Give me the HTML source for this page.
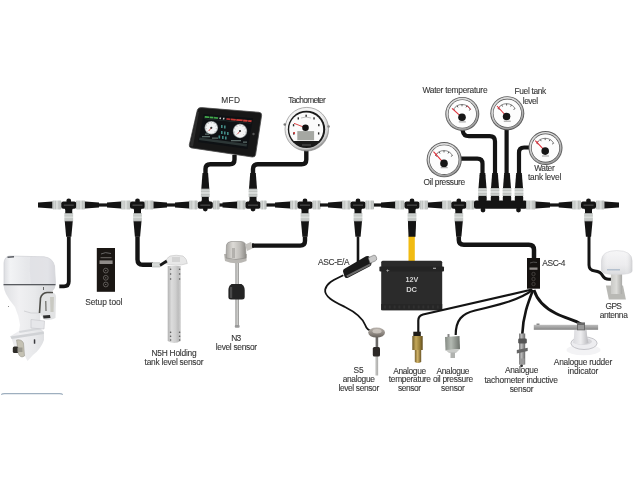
<!DOCTYPE html>
<html><head><meta charset="utf-8"><style>
html,body{margin:0;padding:0;background:#fff;width:640px;height:480px;overflow:hidden}
svg{display:block;will-change:transform}
text{font-family:"Liberation Sans",sans-serif}
</style></head><body>
<svg width="640" height="480" viewBox="0 0 640 480">
<defs>
<linearGradient id="gcol" x1="0" y1="0" x2="1" y2="0">
<stop offset="0" stop-color="#a4a8a6"/><stop offset="0.15" stop-color="#cdd1cf"/><stop offset="0.5" stop-color="#dcdfdd"/><stop offset="0.85" stop-color="#c6cac8"/><stop offset="1" stop-color="#a9adab"/>
</linearGradient>
<linearGradient id="gcolv" x1="0" y1="0" x2="0" y2="1">
<stop offset="0" stop-color="#a4a8a6"/><stop offset="0.15" stop-color="#cdd1cf"/><stop offset="0.5" stop-color="#dcdfdd"/><stop offset="0.85" stop-color="#c6cac8"/><stop offset="1" stop-color="#a9adab"/>
</linearGradient>
<radialGradient id="chrome" cx="0.45" cy="0.4" r="0.6">
<stop offset="0.7" stop-color="#f4f4f4"/><stop offset="0.9" stop-color="#cfcfcf"/><stop offset="1" stop-color="#8a8a8a"/>
</radialGradient>
<radialGradient id="chrome2" cx="0.45" cy="0.4" r="0.6">
<stop offset="0.7" stop-color="#dcdcdc"/><stop offset="1" stop-color="#9a9a9a"/>
</radialGradient>
<linearGradient id="mot1" x1="0" y1="0" x2="1" y2="0">
<stop offset="0" stop-color="#dcdde1"/><stop offset="0.12" stop-color="#f2f3f5"/><stop offset="0.45" stop-color="#e6e7ea"/><stop offset="0.85" stop-color="#e9eaed"/><stop offset="1" stop-color="#cfd0d4"/>
</linearGradient>
<linearGradient id="mot2" x1="0" y1="0" x2="1" y2="0">
<stop offset="0" stop-color="#dfe0e3"/><stop offset="0.3" stop-color="#f0f0f2"/><stop offset="0.6" stop-color="#e8e9eb"/><stop offset="1" stop-color="#d3d4d7"/>
</linearGradient>
<linearGradient id="tube" x1="0" y1="0" x2="1" y2="0">
<stop offset="0" stop-color="#b3b3b3"/><stop offset="0.3" stop-color="#dcdcdc"/><stop offset="0.6" stop-color="#cfcfcf"/><stop offset="0.8" stop-color="#bdbdbd"/><stop offset="1" stop-color="#d0d0d0"/>
</linearGradient>
<linearGradient id="rod" x1="0" y1="0" x2="1" y2="0">
<stop offset="0" stop-color="#8a8a88"/><stop offset="0.5" stop-color="#d6d6d4"/><stop offset="1" stop-color="#8f8f8d"/>
</linearGradient>
<linearGradient id="head" x1="0" y1="0" x2="1" y2="0">
<stop offset="0" stop-color="#a9a7a3"/><stop offset="0.35" stop-color="#dddbd7"/><stop offset="0.7" stop-color="#bfbdb9"/><stop offset="1" stop-color="#8e8c88"/>
</linearGradient>
<linearGradient id="brass" x1="0" y1="0" x2="1" y2="0">
<stop offset="0" stop-color="#6e5a28"/><stop offset="0.35" stop-color="#c4a85a"/><stop offset="0.7" stop-color="#9a8038"/><stop offset="1" stop-color="#5e4a1c"/>
</linearGradient>
<linearGradient id="brass2" x1="0" y1="0" x2="1" y2="0">
<stop offset="0" stop-color="#7a6430"/><stop offset="0.45" stop-color="#d2b468"/><stop offset="1" stop-color="#6a5424"/>
</linearGradient>
<linearGradient id="oilg" x1="0" y1="0" x2="1" y2="0">
<stop offset="0" stop-color="#858b84"/><stop offset="0.4" stop-color="#b4bab3"/><stop offset="1" stop-color="#6d726c"/>
</linearGradient>
<linearGradient id="tachs" x1="0" y1="0" x2="1" y2="0">
<stop offset="0" stop-color="#777"/><stop offset="0.4" stop-color="#b8b8b8"/><stop offset="1" stop-color="#6a6a6a"/>
</linearGradient>
<linearGradient id="bell" x1="0" y1="0" x2="1" y2="0">
<stop offset="0" stop-color="#d9d9dd"/><stop offset="0.5" stop-color="#eeeef0"/><stop offset="1" stop-color="#b9b9bd"/>
</linearGradient>
<linearGradient id="arm" x1="0" y1="0" x2="0" y2="1">
<stop offset="0" stop-color="#bdbdbd"/><stop offset="0.5" stop-color="#a2a2a2"/><stop offset="1" stop-color="#858585"/>
</linearGradient>
<linearGradient id="pole" x1="0" y1="0" x2="1" y2="0">
<stop offset="0" stop-color="#c9c9c6"/><stop offset="0.5" stop-color="#dcdcd9"/><stop offset="1" stop-color="#a9a9a6"/>
</linearGradient>
<linearGradient id="dome" x1="0" y1="0" x2="0" y2="1">
<stop offset="0" stop-color="#f6f6f7"/><stop offset="0.6" stop-color="#ececee"/><stop offset="1" stop-color="#dcdde0"/>
</linearGradient>
<linearGradient id="domeh" x1="0" y1="0" x2="1" y2="0">
<stop offset="0" stop-color="#c8c9cc" stop-opacity="0.5"/><stop offset="0.25" stop-color="#fff" stop-opacity="0"/><stop offset="0.75" stop-color="#fff" stop-opacity="0"/><stop offset="1" stop-color="#c0c1c4" stop-opacity="0.6"/>
</linearGradient>
<linearGradient id="s5f" x1="0" y1="0" x2="0" y2="1">
<stop offset="0" stop-color="#b9b3ad"/><stop offset="0.6" stop-color="#8c8680"/><stop offset="1" stop-color="#66615c"/>
</linearGradient>
</defs>
<rect width="640" height="480" fill="#fff"/>

<path d="M38 202.4 L52.5 201.4 L52.5 208.6 L38 207.6Z" fill="#141414"/>
<rect x="52.5" y="200.6" width="8.799999999999997" height="8.8" rx="0.8" fill="url(#gcol)"/>
<rect x="55.14" y="200.8" width="0.6" height="8.4" fill="#9ea2a0" opacity="0.6"/>
<rect x="58.66" y="200.8" width="0.6" height="8.4" fill="#9ea2a0" opacity="0.6"/>
<rect x="61.25" y="201.6" width="15" height="7.2" rx="2" fill="#141414"/>
<rect x="63.75" y="204.6" width="10" height="1.1" fill="#6a6a6a" opacity="0.7"/>
<circle cx="68.75" cy="200.9" r="2.4" fill="#141414"/>
<path d="M62.75 207 Q65.25 208 65.25 210 L65.25 213.5 L72.25 213.5 L72.25 210 Q72.25 208 74.75 207Z" fill="#141414"/>
<rect x="64.35" y="213.3" width="8.8" height="8" fill="url(#gcolv)"/>
<rect x="64.45" y="215.6" width="8.6" height="0.6" fill="#9ea2a0" opacity="0.6"/><rect x="64.45" y="218.6" width="8.6" height="0.6" fill="#9ea2a0" opacity="0.6"/>
<path d="M64.75 221.3 L72.75 221.3 L71.35 236.8 L66.15 236.8Z" fill="#141414"/>
<rect x="76.2" y="200.6" width="8.799999999999997" height="8.8" rx="0.8" fill="url(#gcol)"/>
<rect x="78.84" y="200.8" width="0.6" height="8.4" fill="#9ea2a0" opacity="0.6"/>
<rect x="82.36" y="200.8" width="0.6" height="8.4" fill="#9ea2a0" opacity="0.6"/>
<path d="M85 201.4 L99 202.4 L99 207.6 L85 208.6Z" fill="#141414"/>
<rect x="99" y="203.4" width="8" height="3.2" fill="#141414"/>
<path d="M107 202.4 L121 201.4 L121 208.6 L107 207.6Z" fill="#141414"/>
<rect x="121" y="200.6" width="9.5" height="8.8" rx="0.8" fill="url(#gcol)"/>
<rect x="123.85" y="200.8" width="0.6" height="8.4" fill="#9ea2a0" opacity="0.6"/>
<rect x="127.65" y="200.8" width="0.6" height="8.4" fill="#9ea2a0" opacity="0.6"/>
<rect x="130.0" y="201.6" width="15" height="7.2" rx="2" fill="#141414"/>
<rect x="132.5" y="204.6" width="10" height="1.1" fill="#6a6a6a" opacity="0.7"/>
<circle cx="137.5" cy="200.9" r="2.4" fill="#141414"/>
<path d="M131.5 207 Q134.0 208 134.0 210 L134.0 213.5 L141.0 213.5 L141.0 210 Q141.0 208 143.5 207Z" fill="#141414"/>
<rect x="133.1" y="213.3" width="8.8" height="8" fill="url(#gcolv)"/>
<rect x="133.2" y="215.6" width="8.6" height="0.6" fill="#9ea2a0" opacity="0.6"/><rect x="133.2" y="218.6" width="8.6" height="0.6" fill="#9ea2a0" opacity="0.6"/>
<path d="M133.5 221.3 L141.5 221.3 L140.1 236.8 L134.9 236.8Z" fill="#141414"/>
<rect x="144.5" y="200.6" width="9.0" height="8.8" rx="0.8" fill="url(#gcol)"/>
<rect x="147.20" y="200.8" width="0.6" height="8.4" fill="#9ea2a0" opacity="0.6"/>
<rect x="150.80" y="200.8" width="0.6" height="8.4" fill="#9ea2a0" opacity="0.6"/>
<path d="M153.5 201.4 L167 202.4 L167 207.6 L153.5 208.6Z" fill="#141414"/>
<rect x="167" y="203.4" width="8" height="3.2" fill="#141414"/>
<path d="M175 202.4 L189 201.4 L189 208.6 L175 207.6Z" fill="#141414"/>
<rect x="189" y="200.6" width="8.5" height="8.8" rx="0.8" fill="url(#gcol)"/>
<rect x="191.55" y="200.8" width="0.6" height="8.4" fill="#9ea2a0" opacity="0.6"/>
<rect x="194.95" y="200.8" width="0.6" height="8.4" fill="#9ea2a0" opacity="0.6"/>
<rect x="197.8" y="201.6" width="15" height="7.2" rx="2" fill="#141414"/>
<rect x="200.3" y="204.6" width="10" height="1.1" fill="#6a6a6a" opacity="0.7"/>
<circle cx="205.3" cy="209.1" r="2.4" fill="#141414"/>
<path d="M199.3 203 Q201.8 202 201.8 200 L201.8 196.5 L208.8 196.5 L208.8 200 Q208.8 202 211.3 203Z" fill="#141414"/>
<rect x="200.9" y="188.8" width="8.8" height="8" fill="url(#gcolv)"/>
<rect x="201.0" y="191.2" width="8.6" height="0.6" fill="#9ea2a0" opacity="0.6"/><rect x="201.0" y="194.2" width="8.6" height="0.6" fill="#9ea2a0" opacity="0.6"/>
<path d="M201.3 188.8 L209.3 188.8 L208.10000000000002 173 L202.5 173Z" fill="#141414"/>
<rect x="213" y="200.6" width="6.5" height="8.8" rx="0.8" fill="url(#gcol)"/>
<rect x="214.95" y="200.8" width="0.6" height="8.4" fill="#9ea2a0" opacity="0.6"/>
<rect x="217.55" y="200.8" width="0.6" height="8.4" fill="#9ea2a0" opacity="0.6"/>
<rect x="219.5" y="203.4" width="3.5" height="3.2" fill="#141414"/>
<path d="M222.5 202.4 L237 201.4 L237 208.6 L222.5 207.6Z" fill="#141414"/>
<rect x="237" y="200.6" width="8.5" height="8.8" rx="0.8" fill="url(#gcol)"/>
<rect x="239.55" y="200.8" width="0.6" height="8.4" fill="#9ea2a0" opacity="0.6"/>
<rect x="242.95" y="200.8" width="0.6" height="8.4" fill="#9ea2a0" opacity="0.6"/>
<rect x="245.5" y="201.6" width="15" height="7.2" rx="2" fill="#141414"/>
<rect x="248" y="204.6" width="10" height="1.1" fill="#6a6a6a" opacity="0.7"/>
<circle cx="253" cy="209.1" r="2.4" fill="#141414"/>
<path d="M247 203 Q249.5 202 249.5 200 L249.5 196.5 L256.5 196.5 L256.5 200 Q256.5 202 259 203Z" fill="#141414"/>
<rect x="248.6" y="188.8" width="8.8" height="8" fill="url(#gcolv)"/>
<rect x="248.7" y="191.2" width="8.6" height="0.6" fill="#9ea2a0" opacity="0.6"/><rect x="248.7" y="194.2" width="8.6" height="0.6" fill="#9ea2a0" opacity="0.6"/>
<path d="M249 188.8 L257 188.8 L255.8 173 L250.2 173Z" fill="#141414"/>
<rect x="260.5" y="200.6" width="6.0" height="8.8" rx="0.8" fill="url(#gcol)"/>
<rect x="262.30" y="200.8" width="0.6" height="8.4" fill="#9ea2a0" opacity="0.6"/>
<rect x="264.70" y="200.8" width="0.6" height="8.4" fill="#9ea2a0" opacity="0.6"/>
<rect x="266.5" y="203.4" width="8.5" height="3.2" fill="#141414"/>
<path d="M275 202.4 L290 201.4 L290 208.6 L275 207.6Z" fill="#141414"/>
<rect x="290" y="200.6" width="7.5" height="8.8" rx="0.8" fill="url(#gcol)"/>
<rect x="292.25" y="200.8" width="0.6" height="8.4" fill="#9ea2a0" opacity="0.6"/>
<rect x="295.25" y="200.8" width="0.6" height="8.4" fill="#9ea2a0" opacity="0.6"/>
<rect x="297.5" y="201.6" width="15" height="7.2" rx="2" fill="#141414"/>
<rect x="300" y="204.6" width="10" height="1.1" fill="#6a6a6a" opacity="0.7"/>
<circle cx="305" cy="200.9" r="2.4" fill="#141414"/>
<path d="M299 207 Q301.5 208 301.5 210 L301.5 213.5 L308.5 213.5 L308.5 210 Q308.5 208 311 207Z" fill="#141414"/>
<rect x="300.6" y="213.3" width="8.8" height="8" fill="url(#gcolv)"/>
<rect x="300.7" y="215.6" width="8.6" height="0.6" fill="#9ea2a0" opacity="0.6"/><rect x="300.7" y="218.6" width="8.6" height="0.6" fill="#9ea2a0" opacity="0.6"/>
<path d="M301 221.3 L309 221.3 L307.6 236.8 L302.4 236.8Z" fill="#141414"/>
<rect x="312.5" y="200.6" width="8.0" height="8.8" rx="0.8" fill="url(#gcol)"/>
<rect x="314.90" y="200.8" width="0.6" height="8.4" fill="#9ea2a0" opacity="0.6"/>
<rect x="318.10" y="200.8" width="0.6" height="8.4" fill="#9ea2a0" opacity="0.6"/>
<rect x="320" y="203.4" width="8.5" height="3.2" fill="#141414"/>
<path d="M328 202.4 L342 201.4 L342 208.6 L328 207.6Z" fill="#141414"/>
<rect x="342" y="200.6" width="8.5" height="8.8" rx="0.8" fill="url(#gcol)"/>
<rect x="344.55" y="200.8" width="0.6" height="8.4" fill="#9ea2a0" opacity="0.6"/>
<rect x="347.95" y="200.8" width="0.6" height="8.4" fill="#9ea2a0" opacity="0.6"/>
<rect x="350.5" y="201.6" width="15" height="7.2" rx="2" fill="#141414"/>
<rect x="353" y="204.6" width="10" height="1.1" fill="#6a6a6a" opacity="0.7"/>
<circle cx="358" cy="200.9" r="2.4" fill="#141414"/>
<path d="M352 207 Q354.5 208 354.5 210 L354.5 213.5 L361.5 213.5 L361.5 210 Q361.5 208 364 207Z" fill="#141414"/>
<rect x="353.6" y="213.3" width="8.8" height="8" fill="url(#gcolv)"/>
<rect x="353.7" y="215.6" width="8.6" height="0.6" fill="#9ea2a0" opacity="0.6"/><rect x="353.7" y="218.6" width="8.6" height="0.6" fill="#9ea2a0" opacity="0.6"/>
<path d="M354 221.3 L362 221.3 L360.6 236.8 L355.4 236.8Z" fill="#141414"/>
<rect x="365.5" y="200.6" width="8.5" height="8.8" rx="0.8" fill="url(#gcol)"/>
<rect x="368.05" y="200.8" width="0.6" height="8.4" fill="#9ea2a0" opacity="0.6"/>
<rect x="371.45" y="200.8" width="0.6" height="8.4" fill="#9ea2a0" opacity="0.6"/>
<rect x="374" y="203.4" width="7.5" height="3.2" fill="#141414"/>
<path d="M381 202.4 L395 201.4 L395 208.6 L381 207.6Z" fill="#141414"/>
<rect x="395" y="200.6" width="9.300000000000011" height="8.8" rx="0.8" fill="url(#gcol)"/>
<rect x="397.79" y="200.8" width="0.6" height="8.4" fill="#9ea2a0" opacity="0.6"/>
<rect x="401.51" y="200.8" width="0.6" height="8.4" fill="#9ea2a0" opacity="0.6"/>
<rect x="404.5" y="201.6" width="15" height="7.2" rx="2" fill="#141414"/>
<rect x="407" y="204.6" width="10" height="1.1" fill="#6a6a6a" opacity="0.7"/>
<circle cx="412" cy="200.9" r="2.4" fill="#141414"/>
<path d="M406 207 Q408.5 208 408.5 210 L408.5 213.5 L415.5 213.5 L415.5 210 Q415.5 208 418 207Z" fill="#141414"/>
<rect x="407.6" y="213.3" width="8.8" height="8" fill="url(#gcolv)"/>
<rect x="407.7" y="215.6" width="8.6" height="0.6" fill="#9ea2a0" opacity="0.6"/><rect x="407.7" y="218.6" width="8.6" height="0.6" fill="#9ea2a0" opacity="0.6"/>
<path d="M408 221.3 L416 221.3 L414.6 236.8 L409.4 236.8Z" fill="#141414"/>
<rect x="419.7" y="200.6" width="8.300000000000011" height="8.8" rx="0.8" fill="url(#gcol)"/>
<rect x="422.19" y="200.8" width="0.6" height="8.4" fill="#9ea2a0" opacity="0.6"/>
<rect x="425.51" y="200.8" width="0.6" height="8.4" fill="#9ea2a0" opacity="0.6"/>
<path d="M428 202.4 L442 201.4 L442 208.6 L428 207.6Z" fill="#141414"/>
<rect x="442" y="200.6" width="9.300000000000011" height="8.8" rx="0.8" fill="url(#gcol)"/>
<rect x="444.79" y="200.8" width="0.6" height="8.4" fill="#9ea2a0" opacity="0.6"/>
<rect x="448.51" y="200.8" width="0.6" height="8.4" fill="#9ea2a0" opacity="0.6"/>
<rect x="451.3" y="201.6" width="15" height="7.2" rx="2" fill="#141414"/>
<rect x="453.8" y="204.6" width="10" height="1.1" fill="#6a6a6a" opacity="0.7"/>
<circle cx="458.8" cy="200.9" r="2.4" fill="#141414"/>
<path d="M452.8 207 Q455.3 208 455.3 210 L455.3 213.5 L462.3 213.5 L462.3 210 Q462.3 208 464.8 207Z" fill="#141414"/>
<rect x="454.40000000000003" y="213.3" width="8.8" height="8" fill="url(#gcolv)"/>
<rect x="454.5" y="215.6" width="8.6" height="0.6" fill="#9ea2a0" opacity="0.6"/><rect x="454.5" y="218.6" width="8.6" height="0.6" fill="#9ea2a0" opacity="0.6"/>
<path d="M454.8 221.3 L462.8 221.3 L461.40000000000003 236.8 L456.2 236.8Z" fill="#141414"/>
<rect x="466.3" y="200.6" width="8.199999999999989" height="8.8" rx="0.8" fill="url(#gcol)"/>
<rect x="468.76" y="200.8" width="0.6" height="8.4" fill="#9ea2a0" opacity="0.6"/>
<rect x="472.04" y="200.8" width="0.6" height="8.4" fill="#9ea2a0" opacity="0.6"/>
<rect x="474" y="200.6" width="53" height="8.2" rx="2" fill="#141414"/>
<circle cx="483" cy="210" r="2.4" fill="#141414"/>
<circle cx="518.5" cy="210" r="2.4" fill="#141414"/>
<rect x="478.3" y="195.5" width="8.4" height="6" rx="1.5" fill="#141414"/>
<rect x="478.1" y="188" width="8.8" height="8" fill="url(#gcolv)"/>
<rect x="478.2" y="190.4" width="8.6" height="0.6" fill="#9ea2a0" opacity="0.6"/><rect x="478.2" y="193.4" width="8.6" height="0.6" fill="#9ea2a0" opacity="0.6"/>
<rect x="479.3" y="175.5" width="6.4" height="0.5" fill="#555" opacity="0.7"/>
<path d="M478.5 188 L486.5 188 L485.3 173 L479.7 173Z" fill="#141414"/>
<rect x="490.8" y="195.5" width="8.4" height="6" rx="1.5" fill="#141414"/>
<rect x="490.6" y="188" width="8.8" height="8" fill="url(#gcolv)"/>
<rect x="490.7" y="190.4" width="8.6" height="0.6" fill="#9ea2a0" opacity="0.6"/><rect x="490.7" y="193.4" width="8.6" height="0.6" fill="#9ea2a0" opacity="0.6"/>
<rect x="491.8" y="175.5" width="6.4" height="0.5" fill="#555" opacity="0.7"/>
<path d="M491 188 L499 188 L497.8 173 L492.2 173Z" fill="#141414"/>
<rect x="502.8" y="195.5" width="8.4" height="6" rx="1.5" fill="#141414"/>
<rect x="502.6" y="188" width="8.8" height="8" fill="url(#gcolv)"/>
<rect x="502.7" y="190.4" width="8.6" height="0.6" fill="#9ea2a0" opacity="0.6"/><rect x="502.7" y="193.4" width="8.6" height="0.6" fill="#9ea2a0" opacity="0.6"/>
<rect x="503.8" y="175.5" width="6.4" height="0.5" fill="#555" opacity="0.7"/>
<path d="M503 188 L511 188 L509.8 173 L504.2 173Z" fill="#141414"/>
<rect x="514.8" y="195.5" width="8.4" height="6" rx="1.5" fill="#141414"/>
<rect x="514.6" y="188" width="8.8" height="8" fill="url(#gcolv)"/>
<rect x="514.7" y="190.4" width="8.6" height="0.6" fill="#9ea2a0" opacity="0.6"/><rect x="514.7" y="193.4" width="8.6" height="0.6" fill="#9ea2a0" opacity="0.6"/>
<rect x="515.8" y="175.5" width="6.4" height="0.5" fill="#555" opacity="0.7"/>
<path d="M515 188 L523 188 L521.8 173 L516.2 173Z" fill="#141414"/>
<rect x="526" y="200.6" width="9.5" height="8.8" rx="0.8" fill="url(#gcol)"/>
<rect x="528.85" y="200.8" width="0.6" height="8.4" fill="#9ea2a0" opacity="0.6"/>
<rect x="532.65" y="200.8" width="0.6" height="8.4" fill="#9ea2a0" opacity="0.6"/>
<path d="M535.5 201.4 L550 202.4 L550 207.6 L535.5 208.6Z" fill="#141414"/>
<rect x="550" y="203.4" width="9" height="3.2" fill="#141414"/>
<path d="M558.7 202.4 L572 201.4 L572 208.6 L558.7 207.6Z" fill="#141414"/>
<rect x="572" y="200.6" width="8.799999999999955" height="8.8" rx="0.8" fill="url(#gcol)"/>
<rect x="574.64" y="200.8" width="0.6" height="8.4" fill="#9ea2a0" opacity="0.6"/>
<rect x="578.16" y="200.8" width="0.6" height="8.4" fill="#9ea2a0" opacity="0.6"/>
<rect x="581.0" y="201.6" width="15" height="7.2" rx="2" fill="#141414"/>
<rect x="583.5" y="204.6" width="10" height="1.1" fill="#6a6a6a" opacity="0.7"/>
<circle cx="588.5" cy="200.9" r="2.4" fill="#141414"/>
<path d="M582.5 207 Q585.0 208 585.0 210 L585.0 213.5 L592.0 213.5 L592.0 210 Q592.0 208 594.5 207Z" fill="#141414"/>
<rect x="584.1" y="213.3" width="8.8" height="8" fill="url(#gcolv)"/>
<rect x="584.2" y="215.6" width="8.6" height="0.6" fill="#9ea2a0" opacity="0.6"/><rect x="584.2" y="218.6" width="8.6" height="0.6" fill="#9ea2a0" opacity="0.6"/>
<path d="M584.5 221.3 L592.5 221.3 L591.1 236.8 L585.9 236.8Z" fill="#141414"/>
<rect x="596.2" y="200.6" width="8.199999999999932" height="8.8" rx="0.8" fill="url(#gcol)"/>
<rect x="598.66" y="200.8" width="0.6" height="8.4" fill="#9ea2a0" opacity="0.6"/>
<rect x="601.94" y="200.8" width="0.6" height="8.4" fill="#9ea2a0" opacity="0.6"/>
<path d="M604.4 201.4 L619 202.4 L619 207.6 L604.4 208.6Z" fill="#141414"/>
<path d="M68.8 236.5 L68.8 281.5 Q68.8 286.3 64 286.3 L59.3 286.3" fill="none" stroke="#141414" stroke-width="3.8" stroke-linecap="butt" stroke-linejoin="round"/>
<path d="M137.5 236.5 L137.5 259.5 Q137.5 264.8 142.8 264.8 L153 264.8" fill="none" stroke="#141414" stroke-width="4.4" stroke-linecap="butt" stroke-linejoin="round"/>
<path d="M205.5 174 L205.5 169 Q205.5 164.2 210.3 164.2 L229.7 164.2 Q234.5 164.2 234.5 159.4 L234.5 155" fill="none" stroke="#141414" stroke-width="4.4" stroke-linecap="butt" stroke-linejoin="round"/>
<path d="M253 174 L253 169 Q253 164.2 257.8 164.2 L301.5 164.2 Q306.3 164.2 306.3 159.4 L306.3 150" fill="none" stroke="#141414" stroke-width="4.4" stroke-linecap="butt" stroke-linejoin="round"/>
<path d="M305 236.5 L305 240.8 Q305 245.6 300.2 245.6 L252 245.6" fill="none" stroke="#141414" stroke-width="4.4" stroke-linecap="butt" stroke-linejoin="round"/>
<path d="M358 236.5 L358 262" fill="none" stroke="#141414" stroke-width="2.6" stroke-linecap="butt" stroke-linejoin="round"/>
<rect x="408.5" y="236" width="6.3" height="25" fill="#f1bb12"/>
<path d="M408 221.3 L416 221.3 L415.5 236.8 L408.5 236.8Z" fill="#141414"/>
<path d="M458.8 236.5 L458.8 239.8 Q458.8 244.8 463.8 244.8 L528.8 244.8 Q534 244.8 534 250 L534 258.5" fill="none" stroke="#141414" stroke-width="4.5" stroke-linecap="butt" stroke-linejoin="round"/>
<path d="M482.5 174 L482.5 163.8 Q482.5 158.6 477.3 158.6 L460 158.6" fill="none" stroke="#141414" stroke-width="4.2" stroke-linecap="butt" stroke-linejoin="round"/>
<path d="M495 174 L495 141.5 Q495 136.2 489.7 136.2 L469 136.2 Q463.5 136.2 462.8 131 L462.5 128" fill="none" stroke="#141414" stroke-width="4.2" stroke-linecap="butt" stroke-linejoin="round"/>
<path d="M506.6 174 L506.6 128" fill="none" stroke="#141414" stroke-width="4.2" stroke-linecap="butt" stroke-linejoin="round"/>
<path d="M519 174 L519 152.7 Q519 147.5 524.2 147.5 L530 147.5" fill="none" stroke="#141414" stroke-width="4.2" stroke-linecap="butt" stroke-linejoin="round"/>
<path d="M201.5 107.6 L259 112.3 Q262 112.6 261.6 115.5 L255.6 154.5 Q255.2 157.4 252.3 157 L191.5 147.9 Q188.8 147.5 189.3 144.8 L197.3 110.3 Q198 107.3 201.5 107.6Z" fill="#171717" stroke="#4a4a4a" stroke-width="0.8"/>
<path d="M203.8 113.9 L253.1 118.3 L247.5 148.9 L198.1 142Z" fill="#0e1114"/>
<path d="M204.88 116.00 L209.32 116.42 L208.98 118.12 L204.54 117.69Z" fill="#46b04e" opacity="1"/>
<path d="M209.81 116.46 L213.26 116.78 L212.92 118.50 L209.47 118.17Z" fill="#46b04e" opacity="1"/>
<path d="M213.76 116.83 L218.19 117.24 L217.85 118.97 L213.41 118.55Z" fill="#3f9e48" opacity="1"/>
<path d="M219.67 117.38 L221.15 117.51 L220.81 119.25 L219.33 119.11Z" fill="#cfcfcf" opacity="1"/>
<path d="M223.12 117.70 L224.60 117.83 L224.26 119.58 L222.78 119.44Z" fill="#cfcfcf" opacity="1"/>
<path d="M226.58 118.02 L230.52 118.38 L230.18 120.15 L226.24 119.77Z" fill="#b03030" opacity="1"/>
<path d="M231.01 118.43 L235.94 118.89 L235.61 120.67 L230.67 120.20Z" fill="#c83a34" opacity="1"/>
<path d="M236.44 118.93 L242.85 119.53 L242.51 121.33 L236.10 120.72Z" fill="#d03c36" opacity="1"/>
<path d="M243.34 119.57 L247.78 119.98 L247.44 121.81 L243.00 121.38Z" fill="#d0403a" opacity="1"/>
<path d="M248.27 120.03 L251.72 120.35 L251.39 122.18 L247.93 121.85Z" fill="#c83a34" opacity="1"/>
<path d="M204.37 118.54 L250.72 123.05 L250.64 123.51 L204.28 118.96Z" fill="#2a3a3a" opacity="1"/>
<circle cx="211.3" cy="127.8" r="6.8" fill="#9aa0a2"/>
<circle cx="211.3" cy="127.8" r="6.0" fill="#f2f4f5"/>
<line x1="207.34" y1="131.76" x2="208.05" y2="131.05" stroke="#555" stroke-width="0.4"/>
<line x1="205.81" y1="128.89" x2="206.79" y2="128.70" stroke="#555" stroke-width="0.4"/>
<line x1="206.13" y1="125.66" x2="207.05" y2="126.04" stroke="#555" stroke-width="0.4"/>
<line x1="208.19" y1="123.14" x2="208.74" y2="123.98" stroke="#555" stroke-width="0.4"/>
<line x1="211.30" y1="122.20" x2="211.30" y2="123.20" stroke="#555" stroke-width="0.4"/>
<line x1="214.41" y1="123.14" x2="213.86" y2="123.98" stroke="#555" stroke-width="0.4"/>
<line x1="216.47" y1="125.66" x2="215.55" y2="126.04" stroke="#555" stroke-width="0.4"/>
<line x1="216.79" y1="128.89" x2="215.81" y2="128.70" stroke="#555" stroke-width="0.4"/>
<line x1="215.26" y1="131.76" x2="214.55" y2="131.05" stroke="#555" stroke-width="0.4"/>
<line x1="211.3" y1="127.8" x2="208.70000000000002" y2="131.0" stroke="#c33" stroke-width="0.8"/><circle cx="211.3" cy="127.8" r="1.1" fill="#333"/>
<circle cx="240" cy="131" r="7.2" fill="#9aa0a2"/>
<circle cx="240" cy="131" r="6.4" fill="#f2f4f5"/>
<line x1="235.76" y1="135.24" x2="236.46" y2="134.54" stroke="#555" stroke-width="0.4"/>
<line x1="234.12" y1="132.17" x2="235.10" y2="131.98" stroke="#555" stroke-width="0.4"/>
<line x1="234.46" y1="128.70" x2="235.38" y2="129.09" stroke="#555" stroke-width="0.4"/>
<line x1="236.67" y1="126.01" x2="237.22" y2="126.84" stroke="#555" stroke-width="0.4"/>
<line x1="240.00" y1="125.00" x2="240.00" y2="126.00" stroke="#555" stroke-width="0.4"/>
<line x1="243.33" y1="126.01" x2="242.78" y2="126.84" stroke="#555" stroke-width="0.4"/>
<line x1="245.54" y1="128.70" x2="244.62" y2="129.09" stroke="#555" stroke-width="0.4"/>
<line x1="245.88" y1="132.17" x2="244.90" y2="131.98" stroke="#555" stroke-width="0.4"/>
<line x1="244.24" y1="135.24" x2="243.54" y2="134.54" stroke="#555" stroke-width="0.4"/>
<line x1="240" y1="131" x2="237.4" y2="134.2" stroke="#c33" stroke-width="0.8"/><circle cx="240" cy="131" r="1.1" fill="#333"/>
<rect x="221" y="125" width="1.6" height="3" fill="#4fa7a0" opacity="0.8"/>
<rect x="224" y="125.5" width="1.6" height="3" fill="#4fa7a0" opacity="0.8"/>
<rect x="221" y="131" width="1.6" height="3" fill="#4fa7a0" opacity="0.8"/>
<rect x="224" y="131.5" width="1.6" height="3" fill="#4fa7a0" opacity="0.8"/>
<rect x="227" y="132" width="1.6" height="3" fill="#4fa7a0" opacity="0.8"/>
<rect x="218.5" y="135.5" width="1.6" height="3" fill="#4fa7a0" opacity="0.8"/>
<rect x="222" y="136" width="1.6" height="3" fill="#4fa7a0" opacity="0.8"/>
<rect x="225" y="136.5" width="1.6" height="3" fill="#4fa7a0" opacity="0.8"/>
<path d="M199.5 137.5 L247 144 L246.6 146.5 L199 140Z" fill="#34403f" opacity="0.8"/>
<rect x="202" y="136" width="8" height="1.3" fill="#5a6a68"/>
<rect x="212" y="137.5" width="6" height="1.3" fill="#5a6a68"/>
<rect x="231" y="140" width="10" height="1.3" fill="#5a6a68"/>
<rect x="243" y="141.5" width="4" height="1.3" fill="#5a6a68"/>
<rect x="205" y="133.5" width="4" height="1.3" fill="#5a6a68"/>
<path d="M190 146 L197 112 L199 112 L193 146.5Z" fill="#2c2c2c"/>
<circle cx="253.5" cy="134" r="1.2" fill="#555"/>
<circle cx="306.8" cy="129.2" r="21.8" fill="url(#chrome)" stroke="#8e8e8e" stroke-width="0.7"/>
<circle cx="284.8" cy="124.5" r="1.3" fill="#777"/><circle cx="328.6" cy="126.5" r="1.3" fill="#888"/>
<circle cx="306.5" cy="129.4" r="18.7" fill="#1a1a1a"/>
<path d="M293.7 141 A17 17 0 1 1 318.7 141Z" fill="#fbfbfb"/>
<rect x="297.3" y="131.1" width="16.8" height="9.2" fill="#a5a7a2"/>
<line x1="305.5" y1="127.8" x2="294" y2="123.3" stroke="#d33" stroke-width="0.9"/>
<circle cx="305.5" cy="127.8" r="3.3" fill="#111"/>
<rect x="293.10" y="132.41" width="1.4" height="2.2" fill="#2a2a2a"/>
<rect x="292.85" y="124.13" width="1.4" height="2.2" fill="#2a2a2a"/>
<rect x="297.59" y="117.33" width="1.4" height="2.2" fill="#2a2a2a"/>
<rect x="305.45" y="114.70" width="1.4" height="2.2" fill="#2a2a2a"/>
<rect x="313.33" y="117.28" width="1.4" height="2.2" fill="#2a2a2a"/>
<rect x="318.12" y="124.04" width="1.4" height="2.2" fill="#2a2a2a"/>
<rect x="317.94" y="132.33" width="1.4" height="2.2" fill="#2a2a2a"/>
<circle cx="294.2" cy="133" r="0.9" fill="#d33"/>
<path d="M301 118 Q306 116 311 118" fill="none" stroke="#999" stroke-width="0.6"/>
<rect x="302" y="144" width="9" height="2" fill="#3a3a3a"/>
<circle cx="462.3" cy="113.9" r="17" fill="#5c5c5c"/>
<circle cx="462.3" cy="113.9" r="16.1" fill="url(#chrome2)"/>
<circle cx="462.3" cy="113.9" r="14.4" fill="#4a4a4a"/>
<circle cx="462.3" cy="113.9" r="13.8" fill="#fdfdfd"/>
<path d="M453.51 109.40 A9.8 9.8 0 0 1 470.49 109.40" fill="none" stroke="#3a3a3a" stroke-width="0.6"/>
<line x1="453.51" y1="109.40" x2="455.07" y2="110.30" stroke="#333" stroke-width="0.8"/>
<line x1="457.10" y1="105.81" x2="458.00" y2="107.37" stroke="#333" stroke-width="0.8"/>
<line x1="462.00" y1="104.50" x2="462.00" y2="106.30" stroke="#333" stroke-width="0.8"/>
<line x1="466.90" y1="105.81" x2="466.00" y2="107.37" stroke="#333" stroke-width="0.8"/>
<line x1="470.49" y1="109.40" x2="468.93" y2="110.30" stroke="#333" stroke-width="0.8"/>
<path d="M466.90 105.81 A9.8 9.8 0 0 1 470.49 109.40" fill="none" stroke="#d03040" stroke-width="1"/>
<line x1="462" y1="117.3" x2="452" y2="108.4" stroke="#e0303a" stroke-width="1.1"/>
<circle cx="462" cy="117.3" r="3.8" fill="#161616"/>
<rect x="458.8" y="121.4" width="7" height="1" fill="#9a9a9a"/>
<circle cx="507.3" cy="113.2" r="17" fill="#5c5c5c"/>
<circle cx="507.3" cy="113.2" r="16.1" fill="url(#chrome2)"/>
<circle cx="507.3" cy="113.2" r="14.4" fill="#4a4a4a"/>
<circle cx="507.3" cy="113.2" r="13.8" fill="#fdfdfd"/>
<path d="M498.11 108.60 A9.8 9.8 0 0 1 515.09 108.60" fill="none" stroke="#3a3a3a" stroke-width="0.6"/>
<line x1="498.11" y1="108.60" x2="499.67" y2="109.50" stroke="#333" stroke-width="0.8"/>
<line x1="501.70" y1="105.01" x2="502.60" y2="106.57" stroke="#333" stroke-width="0.8"/>
<line x1="506.60" y1="103.70" x2="506.60" y2="105.50" stroke="#333" stroke-width="0.8"/>
<line x1="511.50" y1="105.01" x2="510.60" y2="106.57" stroke="#333" stroke-width="0.8"/>
<line x1="515.09" y1="108.60" x2="513.53" y2="109.50" stroke="#333" stroke-width="0.8"/>
<path d="M498.11 108.60 A9.8 9.8 0 0 1 499.67 106.57" fill="none" stroke="#d03040" stroke-width="1"/>
<line x1="506.6" y1="116.5" x2="497" y2="106" stroke="#e0303a" stroke-width="1.1"/>
<circle cx="506.6" cy="116.5" r="3.8" fill="#161616"/>
<rect x="503.8" y="120.7" width="7" height="1" fill="#9a9a9a"/>
<circle cx="444.2" cy="159.7" r="17.6" fill="#5c5c5c"/>
<circle cx="444.2" cy="159.7" r="16.700000000000003" fill="url(#chrome2)"/>
<circle cx="444.2" cy="159.7" r="15.000000000000002" fill="#4a4a4a"/>
<circle cx="444.2" cy="159.7" r="14.400000000000002" fill="#fdfdfd"/>
<path d="M435.51 155.50 A9.8 9.8 0 0 1 452.49 155.50" fill="none" stroke="#3a3a3a" stroke-width="0.6"/>
<line x1="435.51" y1="155.50" x2="437.07" y2="156.40" stroke="#333" stroke-width="0.8"/>
<line x1="439.10" y1="151.91" x2="440.00" y2="153.47" stroke="#333" stroke-width="0.8"/>
<line x1="444.00" y1="150.60" x2="444.00" y2="152.40" stroke="#333" stroke-width="0.8"/>
<line x1="448.90" y1="151.91" x2="448.00" y2="153.47" stroke="#333" stroke-width="0.8"/>
<line x1="452.49" y1="155.50" x2="450.93" y2="156.40" stroke="#333" stroke-width="0.8"/>
<path d="M435.51 155.50 A9.8 9.8 0 0 1 437.07 153.47" fill="none" stroke="#d03040" stroke-width="1"/>
<line x1="444" y1="163.4" x2="433.5" y2="151.6" stroke="#e0303a" stroke-width="1.1"/>
<circle cx="444" cy="163.4" r="3.8" fill="#161616"/>
<rect x="440.7" y="167.2" width="7" height="1" fill="#9a9a9a"/>
<circle cx="545.5" cy="148" r="17" fill="#5c5c5c"/>
<circle cx="545.5" cy="148" r="16.1" fill="url(#chrome2)"/>
<circle cx="545.5" cy="148" r="14.4" fill="#4a4a4a"/>
<circle cx="545.5" cy="148" r="13.8" fill="#fdfdfd"/>
<path d="M536.71 143.20 A9.8 9.8 0 0 1 553.69 143.20" fill="none" stroke="#3a3a3a" stroke-width="0.6"/>
<line x1="536.71" y1="143.20" x2="538.27" y2="144.10" stroke="#333" stroke-width="0.8"/>
<line x1="540.30" y1="139.61" x2="541.20" y2="141.17" stroke="#333" stroke-width="0.8"/>
<line x1="545.20" y1="138.30" x2="545.20" y2="140.10" stroke="#333" stroke-width="0.8"/>
<line x1="550.10" y1="139.61" x2="549.20" y2="141.17" stroke="#333" stroke-width="0.8"/>
<line x1="553.69" y1="143.20" x2="552.13" y2="144.10" stroke="#333" stroke-width="0.8"/>
<path d="M536.71 143.20 A9.8 9.8 0 0 1 538.27 141.17" fill="none" stroke="#d03040" stroke-width="1"/>
<line x1="545.2" y1="151.1" x2="535.3" y2="140.7" stroke="#e0303a" stroke-width="1.1"/>
<circle cx="545.2" cy="151.1" r="3.8" fill="#161616"/>
<rect x="542.0" y="155.5" width="7" height="1" fill="#9a9a9a"/>
<rect x="96.8" y="248" width="18.2" height="43.8" fill="#1a1613"/>
<rect x="99.5" y="260.4" width="13.1" height="3.6" fill="#8f8b88"/>
<rect x="100.5" y="257.2" width="11" height="1" fill="#6f6b68"/>
<path d="M101 254 Q105 251.5 111 253.5" fill="none" stroke="#888" stroke-width="0.7"/>
<circle cx="105.8" cy="270.6" r="2.4" fill="none" stroke="#8a8683" stroke-width="0.6"/>
<circle cx="105.8" cy="270.6" r="0.6" fill="#8a8683"/>
<circle cx="105.8" cy="277.8" r="2.4" fill="none" stroke="#8a8683" stroke-width="0.6"/>
<circle cx="105.8" cy="277.8" r="0.6" fill="#8a8683"/>
<circle cx="105.8" cy="284.5" r="2.4" fill="none" stroke="#8a8683" stroke-width="0.6"/>
<circle cx="105.8" cy="284.5" r="0.6" fill="#8a8683"/>
<rect x="527" y="258" width="13" height="30.7" fill="#151210"/>
<rect x="529.5" y="267.5" width="8" height="2.3" fill="#8f8b88"/>
<path d="M530 263 Q533 261.5 537 262.5" fill="none" stroke="#777" stroke-width="0.6"/>
<circle cx="533.5" cy="274" r="1.7" fill="none" stroke="#6a6663" stroke-width="0.5"/>
<circle cx="533.5" cy="279" r="1.7" fill="none" stroke="#6a6663" stroke-width="0.5"/>
<circle cx="533.5" cy="284" r="1.7" fill="none" stroke="#6a6663" stroke-width="0.5"/>
<rect x="381.2" y="260.8" width="61" height="49.4" rx="1.5" fill="#2b2b2b"/>
<rect x="379.4" y="266.6" width="64.6" height="4.8" rx="1" fill="#242424"/>
<rect x="381.2" y="304" width="61" height="6.2" fill="#262626"/>
<rect x="384.0" y="305.5" width="2" height="3" fill="#303030"/>
<rect x="388.8" y="305.5" width="2" height="3" fill="#303030"/>
<rect x="393.6" y="305.5" width="2" height="3" fill="#303030"/>
<rect x="398.4" y="305.5" width="2" height="3" fill="#303030"/>
<rect x="403.2" y="305.5" width="2" height="3" fill="#303030"/>
<rect x="408.0" y="305.5" width="2" height="3" fill="#303030"/>
<rect x="412.8" y="305.5" width="2" height="3" fill="#303030"/>
<rect x="417.6" y="305.5" width="2" height="3" fill="#303030"/>
<rect x="422.4" y="305.5" width="2" height="3" fill="#303030"/>
<rect x="427.2" y="305.5" width="2" height="3" fill="#303030"/>
<rect x="432.0" y="305.5" width="2" height="3" fill="#303030"/>
<rect x="436.8" y="305.5" width="2" height="3" fill="#303030"/>
<text x="387.8" y="271.5" font-size="6" fill="#ccc" text-anchor="middle">+</text>
<rect x="433" y="267.8" width="3" height="0.9" fill="#ccc"/>
<text x="411.8" y="282.3" font-size="7.8" font-weight="bold" fill="#d4d4d4" text-anchor="middle" textLength="12.8" lengthAdjust="spacingAndGlyphs">12V</text>
<text x="411.6" y="291.9" font-size="7.8" font-weight="bold" fill="#d4d4d4" text-anchor="middle" textLength="10.9" lengthAdjust="spacingAndGlyphs">DC</text>
<path d="M1.2 394.6 Q2.2 393.7 4.5 393.7 L59.5 393.7 Q61.8 393.7 62.8 394.6" fill="none" stroke="#9eafbf" stroke-width="1.2"/>
<path d="M3.5 285.2 L55.5 285.2 Q55 290 50 292.5 L41 296 L40 328 L44 332 L44 340 Q41 349 33 355 L27.5 361 L25 356 Q17 353 14 346 L11.5 338 L10 336.5 L19 331 L20 325 Q19 316 15 307 Q9 300 6 294 Q4 290 3.5 285.2Z" fill="url(#mot2)"/>
<path d="M4 284.5 L4 263 Q4.5 256.5 9.5 256 L44 256.8 Q53 258 54.5 266 L55.5 284.5Z" fill="url(#mot1)" stroke="#cfd0d4" stroke-width="0.7"/>
<path d="M30 257 L44 256.8 Q53 258 54.5 266 L55.5 284 L31 284 Q29 270 30 257Z" fill="#dcdde1" opacity="0.55"/>
<rect x="3.5" y="284.1" width="52" height="1.2" fill="#4a4c52"/>
<path d="M7.5 256.4 L14 256 L14 257.4 L7.5 257.9Z" fill="#5a5d63"/>
<path d="M10.5 336.5 L43.5 331.5 L44 334 L11.5 339Z" fill="#d0d2d5"/>
<path d="M19 331 L40 327.5 L40.5 329.5 L19.5 333Z" fill="#d6d8db"/>
<path d="M24 311 Q30 314 40 313" fill="none" stroke="#d3d4d7" stroke-width="1"/>
<path d="M31 319.5 L44.5 321 L44 329 L31 328Z" fill="#e6e7ea" stroke="#c4c5c9" stroke-width="0.6"/>
<path d="M16.5 340 Q21.5 339 23.5 343 L24.5 356 Q20.5 358.5 18.5 354 Z" fill="#c4c1b3" stroke="#8f8d82" stroke-width="0.5"/>
<rect x="12.8" y="346.5" width="5.6" height="6.5" rx="1.5" fill="#2e2c28"/>
<rect x="17.5" y="347.5" width="5" height="4.5" fill="#9c9a90"/>
<rect x="33.8" y="339.2" width="1.5" height="4.6" rx="0.6" fill="#3a3a3e"/>
<rect x="8" y="306" width="1" height="1" fill="#888"/>
<path d="M39.5 313 L40.5 298 Q42 293 47 292.5 L53 292.5 Q56 293.5 56 297 L55.5 318 Q50 321 44 319.5 Z" fill="#e2e3e4"/>
<path d="M39.5 313 L40.5 298 Q42 293 47 292.5 L53 292.5" fill="none" stroke="#4e4d48" stroke-width="1.6"/>
<path d="M45.3 301 L46.3 301 L46.5 311 L45.5 311Z" fill="#55544e"/>
<path d="M43 315.5 L50 315 L50.5 318 L43.5 318.5Z" fill="#2f2f2f"/>
<path d="M50 297 L54 297 L53.5 312 L50.5 312Z" fill="#c9c9c2"/>
<rect x="43" y="287" width="1" height="3" fill="#666"/>
<path d="M167.7 266 L180.8 266 L180.8 341 Q174.2 345 167.7 341Z" fill="url(#tube)"/>
<circle cx="170.6" cy="269.3" r="0.8" fill="#555"/>
<circle cx="179.6" cy="269.3" r="0.8" fill="#555"/>
<circle cx="170.6" cy="274" r="0.8" fill="#555"/>
<circle cx="179.6" cy="274" r="0.8" fill="#555"/>
<circle cx="170.6" cy="279" r="0.8" fill="#555"/>
<circle cx="179.6" cy="279" r="0.8" fill="#555"/>
<circle cx="170.6" cy="332.3" r="0.8" fill="#555"/>
<circle cx="179.6" cy="332.3" r="0.8" fill="#555"/>
<circle cx="170.6" cy="336.3" r="0.8" fill="#555"/>
<circle cx="179.6" cy="336.3" r="0.8" fill="#555"/>
<circle cx="170.6" cy="340" r="0.8" fill="#555"/>
<circle cx="179.6" cy="340" r="0.8" fill="#555"/>
<path d="M165 263.5 Q166 258 170 256 Q176 254.5 183 256 Q187 258.5 187.3 263.5 Q176 267 165 263.5Z" fill="#e8e8e8" stroke="#bbb" stroke-width="0.5"/>
<rect x="172" y="257" width="8" height="5" fill="#d4d4d4"/>
<rect x="152" y="262.5" width="8" height="4.8" fill="url(#gcolv)"/>
<path d="M159.5 264 L166 259.8 L167.6 262.3 L160.5 266.8Z" fill="#181818"/>
<rect x="235.4" y="262" width="3.6" height="64" fill="url(#rod)"/>
<rect x="234.8" y="325" width="4.8" height="2.8" rx="1" fill="#9a9a9a"/>
<path d="M231.5 284 L241.5 284 Q244.7 286 244.7 290 L244.7 297 Q244.7 299.5 242 299.5 L231 299.5 Q228.4 299.5 228.4 297 L228.4 290 Q228.4 286 231.5 284Z" fill="#242424"/>
<rect x="230" y="287" width="2.2" height="11" fill="#4a4a4a"/>
<path d="M224 254 L247 254 L246.5 261 Q236 265.5 225 261Z" fill="#b9b7b3"/>
<path d="M226.5 245 Q227 242 231 241.5 L241 241.5 Q245.5 242 245.5 245 L246 258 Q236 261 226 258Z" fill="url(#head)" stroke="#8a8884" stroke-width="0.6"/>
<rect x="232" y="248" width="3" height="10" fill="#9a9894" opacity="0.6"/>
<path d="M245 244.5 L251 242 L253.5 248 L247 251Z" fill="#c5c3bf"/>
<path d="M252 245.6 L254 245.6" fill="none" stroke="#141414" stroke-width="4.4" stroke-linecap="butt" stroke-linejoin="round"/>
<path d="M344.5 268.7 L366 256.3 Q368.5 255.5 370 257.5 L371.5 263.5 Q371.5 265.5 369.5 266.5 L348 277.8 Q345.5 278.7 344.5 276.5 L343 271.5 Q342.8 269.5 344.5 268.7Z" fill="#1a1a1a"/>
<path d="M346.3 275.5 L370 263.5 L370.8 265.2 L347.3 277.2Z" fill="#6a6a6a"/>
<path d="M368.2 257.8 L373.8 255.2 Q375.8 255 376.3 257 L376.7 258.7 Q376.8 260.3 375.2 261 L370 263.3Z" fill="#c9c9c9" stroke="#555" stroke-width="0.5"/>
<path d="M343.3 275.3 C336 279 327 282 325.2 289.5 C324 297 335 302 345 307 C355 312 362 317 365.2 325 C366.5 329 369 331 373 331.3" fill="none" stroke="#141414" stroke-width="1.8" stroke-linecap="butt" stroke-linejoin="round"/>
<rect x="375.6" y="336" width="2.6" height="12" fill="#6a6866"/>
<rect x="375.7" y="356" width="2.4" height="19.5" fill="url(#rod)"/>
<rect x="372.8" y="347" width="7.2" height="9.5" rx="1.5" fill="#2c2826"/>
<ellipse cx="376.6" cy="332.6" rx="8.4" ry="5" fill="url(#s5f)"/>
<ellipse cx="377" cy="331.2" rx="4.5" ry="2.2" fill="#d2ccc6" opacity="0.8"/>
<path d="M532 289.5 L423 314.5 Q418.3 315.8 418.3 320.5 L418.3 332" fill="none" stroke="#141414" stroke-width="2.2" stroke-linecap="butt" stroke-linejoin="round"/>
<path d="M532.5 289.8 C520 300 495 306 475 310.5 C462 313.5 455.7 320 455.7 335" fill="none" stroke="#141414" stroke-width="2.2" stroke-linecap="butt" stroke-linejoin="round"/>
<path d="M533 290 C528 303 523 316 522.3 334" fill="none" stroke="#141414" stroke-width="2.6" stroke-linecap="butt" stroke-linejoin="round"/>
<path d="M534 290 C537 300 545 308 556 313.5 C566 318.5 575 320 581 324" fill="none" stroke="#141414" stroke-width="2.8" stroke-linecap="butt" stroke-linejoin="round"/>
<rect x="413.3" y="331.7" width="7.5" height="4.3" fill="#1e1c18"/>
<path d="M412.3 336 L422.7 336 L422.7 350 L412.3 350Z" fill="url(#brass)"/>
<path d="M414.8 350 L421.2 350 L421.2 362 Q418 364 414.8 362Z" fill="url(#brass2)"/>
<path d="M445 337 L459.5 336 L460 349 L445.5 350.5Z" fill="url(#oilg)"/>
<rect x="447.5" y="334" width="2" height="3" fill="#888"/>
<path d="M445.5 350 L460 349 L456 353 L449 353Z" fill="#c9cbc8"/>
<rect x="450.5" y="352.5" width="4.5" height="5.5" fill="#b0b2af"/>
<rect x="519" y="333.5" width="6.2" height="31" fill="url(#tachs)"/>
<rect x="518.2" y="338.5" width="8.6" height="5" rx="1.2" fill="#555"/>
<path d="M516.8 350 L527.7 347.8 L527.7 351 L516.8 353.5Z" fill="#666"/>
<rect x="519.5" y="358.5" width="5" height="6" fill="#9a9a9a"/>
<circle cx="521.6" cy="365.8" r="1.4" fill="#333"/>
<ellipse cx="583.5" cy="350" rx="17" ry="5.2" fill="#f3f3f5"/>
<ellipse cx="584" cy="343.2" rx="13.1" ry="6.3" fill="#ededf0" stroke="#b9b9be" stroke-width="0.8"/>
<ellipse cx="583" cy="341.5" rx="9" ry="3.5" fill="#d6d6da"/>
<path d="M574.3 330 L586.6 330 Q587 338 588.5 343 Q581 346 573 343 Q574.3 338 574.3 330Z" fill="url(#bell)"/>
<rect x="533.8" y="324.8" width="64.3" height="5" fill="url(#arm)"/>
<rect x="536.5" y="323.5" width="3" height="1.5" fill="#8a8a8a"/>
<rect x="577" y="322.4" width="8" height="7.9" fill="#6a6a6a"/>
<rect x="578" y="325" width="6" height="4.5" fill="#9a9a9a"/>
<path d="M589 236 L589 265 Q589 270.5 595 271 Q600.5 271.5 602.5 275.5 Q604.5 279.3 609 279.3 L611 279.3" fill="none" stroke="#141414" stroke-width="3" stroke-linecap="butt" stroke-linejoin="round"/>
<path d="M605.9 285.6 L623 285.6 L625.9 299.4 L608.8 299.4Z" fill="#b9b9b5"/>
<rect x="610.9" y="273" width="11.2" height="21" fill="url(#pole)"/>
<path d="M601.5 271 L601.5 261 Q601.5 250.6 616.8 250.6 Q632.1 250.6 632.1 261 L632.1 271 Q632 274.4 616.8 274.4 Q601.6 274.4 601.5 271Z" fill="url(#dome)" stroke="#d6d7da" stroke-width="0.6"/>
<path d="M601.5 271 L601.5 261 Q601.5 250.6 616.8 250.6 Q632.1 250.6 632.1 261 L632.1 271 Q632 274.4 616.8 274.4 Q601.6 274.4 601.5 271Z" fill="url(#domeh)"/>
<rect x="607" y="269" width="13" height="1.5" fill="#a8b6c8" opacity="0.8"/>
<text x="230.72" y="103.1" font-size="8.4" text-anchor="middle" fill="#363636" stroke="#363636" stroke-width="0.1" textLength="18.85" lengthAdjust="spacing">MFD</text>
<text x="307.05" y="103.2" font-size="8.4" text-anchor="middle" fill="#363636" stroke="#363636" stroke-width="0.1" textLength="37.50" lengthAdjust="spacing">Tachometer</text>
<text x="455.00" y="93.1" font-size="8.4" text-anchor="middle" fill="#363636" stroke="#363636" stroke-width="0.1" textLength="65.10" lengthAdjust="spacing">Water temperature</text>
<text x="530.38" y="94.4" font-size="8.4" text-anchor="middle" fill="#363636" stroke="#363636" stroke-width="0.1" textLength="31.85" lengthAdjust="spacing">Fuel tank</text>
<text x="530.42" y="103.75" font-size="8.4" text-anchor="middle" fill="#363636" stroke="#363636" stroke-width="0.1" textLength="15.25" lengthAdjust="spacing">level</text>
<text x="444.35" y="185.3" font-size="8.4" text-anchor="middle" fill="#363636" stroke="#363636" stroke-width="0.1" textLength="41.50" lengthAdjust="spacing">Oil pressure</text>
<text x="544.42" y="170.8" font-size="8.4" text-anchor="middle" fill="#363636" stroke="#363636" stroke-width="0.1" textLength="20.55" lengthAdjust="spacing">Water</text>
<text x="544.60" y="180.0" font-size="8.4" text-anchor="middle" fill="#363636" stroke="#363636" stroke-width="0.1" textLength="33.40" lengthAdjust="spacing">tank level</text>
<text x="103.85" y="305.0" font-size="8.4" text-anchor="middle" fill="#363636" stroke="#363636" stroke-width="0.1" textLength="37.30" lengthAdjust="spacing">Setup tool</text>
<text x="174.05" y="356.0" font-size="8.4" text-anchor="middle" fill="#363636" stroke="#363636" stroke-width="0.1" textLength="45.10" lengthAdjust="spacing">N5H Holding</text>
<text x="174.05" y="365.3" font-size="8.4" text-anchor="middle" fill="#363636" stroke="#363636" stroke-width="0.1" textLength="58.90" lengthAdjust="spacing">tank level sensor</text>
<text x="236.20" y="341.2" font-size="8.4" text-anchor="middle" fill="#363636" stroke="#363636" stroke-width="0.1" textLength="10.00" lengthAdjust="spacing">N3</text>
<text x="236.40" y="350.3" font-size="8.4" text-anchor="middle" fill="#363636" stroke="#363636" stroke-width="0.1" textLength="41.40" lengthAdjust="spacing">level sensor</text>
<text x="333.85" y="265.1" font-size="8.4" text-anchor="middle" fill="#363636" stroke="#363636" stroke-width="0.1" textLength="31.50" lengthAdjust="spacing">ASC-E/A</text>
<text x="553.80" y="265.9" font-size="8.4" text-anchor="middle" fill="#363636" stroke="#363636" stroke-width="0.1" textLength="23.20" lengthAdjust="spacing">ASC-4</text>
<text x="613.75" y="308.7" font-size="8.4" text-anchor="middle" fill="#363636" stroke="#363636" stroke-width="0.1" textLength="16.30" lengthAdjust="spacing">GPS</text>
<text x="613.75" y="317.75" font-size="8.4" text-anchor="middle" fill="#363636" stroke="#363636" stroke-width="0.1" textLength="28.10" lengthAdjust="spacing">antenna</text>
<text x="358.60" y="372.6" font-size="8.4" text-anchor="middle" fill="#363636" stroke="#363636" stroke-width="0.1" textLength="10.00" lengthAdjust="spacing">S5</text>
<text x="358.80" y="381.6" font-size="8.4" text-anchor="middle" fill="#363636" stroke="#363636" stroke-width="0.1" textLength="32.20" lengthAdjust="spacing">analogue</text>
<text x="358.80" y="390.5" font-size="8.4" text-anchor="middle" fill="#363636" stroke="#363636" stroke-width="0.1" textLength="40.80" lengthAdjust="spacing">level sensor</text>
<text x="409.68" y="373.5" font-size="8.4" text-anchor="middle" fill="#363636" stroke="#363636" stroke-width="0.1" textLength="32.95" lengthAdjust="spacing">Analogue</text>
<text x="409.90" y="382.3" font-size="8.4" text-anchor="middle" fill="#363636" stroke="#363636" stroke-width="0.1" textLength="42.20" lengthAdjust="spacing">temperature</text>
<text x="409.45" y="391.1" font-size="8.4" text-anchor="middle" fill="#363636" stroke="#363636" stroke-width="0.1" textLength="23.10" lengthAdjust="spacing">sensor</text>
<text x="453.05" y="373.5" font-size="8.4" text-anchor="middle" fill="#363636" stroke="#363636" stroke-width="0.1" textLength="32.90" lengthAdjust="spacing">Analogue</text>
<text x="453.00" y="382.3" font-size="8.4" text-anchor="middle" fill="#363636" stroke="#363636" stroke-width="0.1" textLength="40.20" lengthAdjust="spacing">oil pressure</text>
<text x="452.90" y="391.1" font-size="8.4" text-anchor="middle" fill="#363636" stroke="#363636" stroke-width="0.1" textLength="23.80" lengthAdjust="spacing">sensor</text>
<text x="521.60" y="373.3" font-size="8.4" text-anchor="middle" fill="#363636" stroke="#363636" stroke-width="0.1" textLength="33.40" lengthAdjust="spacing">Analogue</text>
<text x="521.25" y="382.7" font-size="8.4" text-anchor="middle" fill="#363636" stroke="#363636" stroke-width="0.1" textLength="73.50" lengthAdjust="spacing">tachometer inductive</text>
<text x="521.60" y="391.5" font-size="8.4" text-anchor="middle" fill="#363636" stroke="#363636" stroke-width="0.1" textLength="23.80" lengthAdjust="spacing">sensor</text>
<text x="583.00" y="364.8" font-size="8.4" text-anchor="middle" fill="#363636" stroke="#363636" stroke-width="0.1" textLength="58.40" lengthAdjust="spacing">Analogue rudder</text>
<text x="582.95" y="374.1" font-size="8.4" text-anchor="middle" fill="#363636" stroke="#363636" stroke-width="0.1" textLength="30.50" lengthAdjust="spacing">indicator</text>
</svg></body></html>
